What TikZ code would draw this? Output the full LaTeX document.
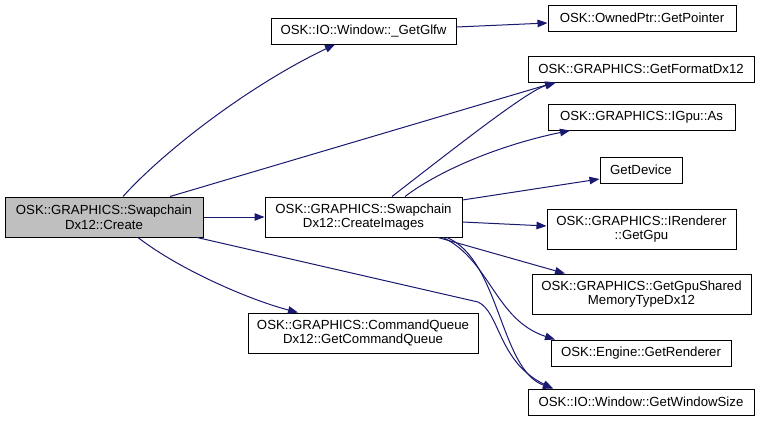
\documentclass[tikz,border=0pt]{standalone}
\usepackage{fontspec}
\setmainfont{Liberation Sans}
\usetikzlibrary{arrows.meta}
\definecolor{edgeblue}{HTML}{191970}
\definecolor{curgray}{HTML}{BFBFBF}
\tikzset{
  box/.style={draw=black, line width=1pt, fill=white, inner sep=0pt, align=center,
    font=\fontsize{13.2}{14.6}\selectfont},
  cur/.style={box, fill=curgray},
  edge/.style={draw=edgeblue, line width=1pt, -{Triangle[length=10pt,width=7.5pt]}},
}
\begin{document}
\begin{tikzpicture}[x=1pt,y=-1pt]
\useasboundingbox (0,0) rectangle (760,423);
\node[cur, minimum width=198pt, minimum height=40pt] (create) at (104,217) {OSK::GRAPHICS::Swapchain\\Dx12::Create};
\node[box, minimum width=185pt, minimum height=26pt] (glfw) at (363.5,31) {OSK::IO::Window::\_GetGlfw};
\node[box, minimum width=188pt, minimum height=26pt] (ptr) at (642,18) {OSK::OwnedPtr::GetPointer};
\node[box, minimum width=226pt, minimum height=26pt] (fmt) at (641,69) {OSK::GRAPHICS::GetFormatDx12};
\node[box, minimum width=187pt, minimum height=26pt] (igpu) at (641.5,117) {OSK::GRAPHICS::IGpu::As};
\node[box, minimum width=82pt, minimum height=26pt] (dev) at (641,170) {GetDevice};
\node[box, minimum width=189pt, minimum height=40pt] (rgpu) at (641.5,229) {OSK::GRAPHICS::IRenderer\\::GetGpu};
\node[box, minimum width=219pt, minimum height=40pt] (shm) at (641.5,294) {OSK::GRAPHICS::GetGpuShared\\MemoryTypeDx12};
\node[box, minimum width=180pt, minimum height=26pt] (eng) at (641,353) {OSK::Engine::GetRenderer};
\node[box, minimum width=226pt, minimum height=26pt] (win) at (641,402) {OSK::IO::Window::GetWindowSize};
\node[box, minimum width=197pt, minimum height=40pt] (cimg) at (363.5,217) {OSK::GRAPHICS::Swapchain\\Dx12::CreateImages};
\node[box, minimum width=230pt, minimum height=40pt] (cq) at (363,333) {OSK::GRAPHICS::CommandQueue\\Dx12::GetCommandQueue};

\draw[edge] ([xshift=19pt]create.north) .. controls (165,150) and (250,85) .. ([xshift=-28.5pt]glfw.south);
\draw[edge] ([xshift=66pt]create.north) -- ([xshift=-86pt]fmt.south);
\draw[edge] (create.east) -- (cimg.west);
\draw[edge] ([xshift=34pt]create.south) .. controls (180,270) and (250,300) .. ([xshift=-65pt]cq.north);
\draw[edge] ([xshift=93pt]create.south) -- (478,302) .. controls (500,312) and (498,362) .. ([xshift=-88pt]win.north);
\draw[edge] ([yshift=4pt]glfw.east) -- ([yshift=-5pt]ptr.west);
\draw[edge] ([xshift=28.5pt]cimg.north) .. controls (480,128) and (530,90) .. ([xshift=-85pt]fmt.south);
\draw[edge] ([xshift=41.5pt]cimg.north) .. controls (440,170) and (500,145) .. ([xshift=-71.5pt]igpu.south);
\draw[edge] ([yshift=17pt]cimg.east) -- ([yshift=-9pt]dev.west);
\draw[edge] ([yshift=-5pt]cimg.east) -- ([yshift=3pt]rgpu.west);
\draw[edge] ([xshift=74.5pt]cimg.south) -- ([xshift=-76.5pt]shm.north);
\draw[edge] ([xshift=79.5pt]cimg.south) .. controls (490,260) and (495,320) .. ([xshift=-86pt]eng.north);
\draw[edge] ([xshift=83.5pt]cimg.south) .. controls (500,260) and (500,370) .. ([xshift=-88pt]win.north);
\end{tikzpicture}
\end{document}
